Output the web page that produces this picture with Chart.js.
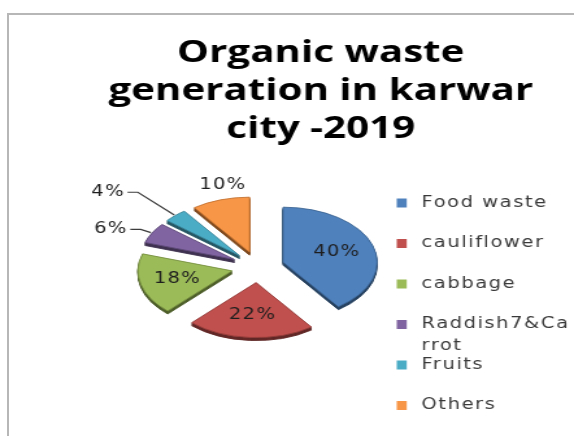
<!DOCTYPE html>
<html>
<head>
<meta charset="utf-8">
<script src="https://cdn.jsdelivr.net/npm/chart.js@4.4.1/dist/chart.umd.min.js"></script>
<style>
  html, body { margin: 0; padding: 0; background: #fff; }
  body { width: 574px; height: 436px; overflow: hidden; position: relative; }
  #frame {
    position: absolute; left: 7px; top: 13px; width: 620px; height: 480px;
    border-top: 2px solid #b7b7b7; border-left: 2px solid #b7b7b7;
  }
  #chart { position: absolute; left: 0; top: 0; }
</style>
</head>
<body>
<div id="frame"></div>
<!-- the source picture is stretched sideways, so the canvas is drawn narrow and widened by css -->
<canvas id="chart" width="442" height="436" style="width:574px;height:436px"></canvas>
<script>
const titleLines = ['Organic waste', 'generation in karwar', 'city -2019'];
const categories = ['Food waste', 'cauliflower', 'cabbage', 'Raddish7&Carrot', 'Fruits', 'Others'];
const shares = [40, 22, 18, 6, 4, 10];
const sliceColors = ['#4F81BD', '#C0504D', '#9BBB59', '#8064A2', '#4BACC6', '#F79646'];
const edgeColors = ['#3b6493', '#933c3a', '#76903f', '#5e4a79', '#3a8599', '#c4712f'];

const TILT = 0.76;     // vertical squash of the pie
const EXPLODE = 20.5;  // how far each slice is pulled out
const DEPTH = 3;       // side height of the 3d pie, px

function midAngle(arc) {
  return (arc.startAngle + arc.endAngle) / 2;
}

function pointAt(arc, dist) {
  const mid = midAngle(arc);
  return { x: arc.x + Math.cos(mid) * dist, y: arc.y + Math.sin(mid) * dist * TILT };
}

const explodedPie = {
  id: 'explodedPie',
  beforeDatasetsDraw(chart) {
    const { ctx } = chart;
    const arcs = chart.getDatasetMeta(0).data;
    const { x: cx, y: cy } = arcs[0];
    ctx.save();
    ctx.translate(cx, cy);
    ctx.scale(1, TILT);
    ctx.translate(-cx, -cy);

    const drawSlice = (arc, drop, filter) => {
      const mid = midAngle(arc);
      ctx.save();
      ctx.filter = filter;
      ctx.translate(Math.cos(mid) * EXPLODE, Math.sin(mid) * EXPLODE + drop / TILT);
      arc.draw(ctx);
      ctx.restore();
    };

    // sides first, then the tops
    for (let d = DEPTH; d > 0; d--) {
      arcs.forEach(arc => drawSlice(arc, d, 'brightness(0.62)'));
    }
    arcs.forEach(arc => drawSlice(arc, 0, 'none'));

    ctx.restore();
    return false;
  },
};

const sliceLabels = {
  id: 'sliceLabels',
  afterDraw(chart) {
    const { ctx } = chart;
    const arcs = chart.getDatasetMeta(0).data;
    const values = chart.data.datasets[0].data;
    const total = values.reduce((a, b) => a + b, 0);

    ctx.save();
    ctx.font = '15px "DejaVu Sans"';
    ctx.letterSpacing = '1px';
    ctx.fillStyle = '#1e1e1e';
    ctx.strokeStyle = '#3c3c3c';
    ctx.lineWidth = 1.2;
    ctx.textBaseline = 'middle';

    let leaders = 0;
    arcs.forEach((arc, i) => {
      const pct = values[i] / total * 100;
      const text = Math.round(pct) + '%';
      const R = arc.outerRadius;

      if (pct >= 15) {
        const p = pointAt(arc, EXPLODE + R * 0.6);
        ctx.textAlign = 'center';
        ctx.fillText(text, p.x, p.y);
      } else if (pct >= 8) {
        const p = pointAt(arc, EXPLODE + R + 20);
        ctx.textAlign = 'center';
        ctx.fillText(text, p.x + 8, p.y);
      } else {
        // thin slices get a leader line
        const a = pointAt(arc, EXPLODE + R + 1);
        const b = pointAt(arc, EXPLODE + R + 10 + 32 * leaders++);
        const side = Math.cos(midAngle(arc)) < 0 ? -1 : 1;
        const c = { x: b.x + side * 8, y: b.y };
        ctx.beginPath();
        ctx.moveTo(a.x, a.y);
        ctx.lineTo(b.x, b.y);
        ctx.lineTo(c.x, c.y);
        ctx.stroke();
        ctx.textAlign = side < 0 ? 'right' : 'left';
        ctx.fillText(text, c.x + side * 2, c.y);
      }
    });
    ctx.restore();
  },
};

const titleAndLegend = {
  id: 'titleAndLegend',
  afterDraw(chart) {
    const { ctx } = chart;

    // title
    ctx.save();
    ctx.font = 'bold 31px "Open Sans"';
    ctx.fillStyle = '#000';
    ctx.textAlign = 'center';
    ctx.textBaseline = 'alphabetic';
    titleLines.forEach((line, i) => ctx.fillText(line, 247, 62 + i * 38));
    ctx.restore();

    // legend
    const boxX = 305.5, textX = 324.6, top = 203, step = 40.5, lineH = 22;
    const maxW = chart.width - textX;
    const colors = chart.data.datasets[0].backgroundColor;
    ctx.save();
    ctx.font = '15px "DejaVu Sans"';
    ctx.letterSpacing = '1.2px';
    ctx.textBaseline = 'middle';
    ctx.textAlign = 'left';
    chart.data.labels.forEach((label, i) => {
      const y = top + i * step;
      ctx.fillStyle = colors[i];
      ctx.fillRect(boxX, y - 4.5, 7.7, 9);

      // break long names by character, like the source does
      const lines = [];
      let cur = '';
      for (const ch of label) {
        if (cur && ctx.measureText(cur + ch).width > maxW) {
          lines.push(cur);
          cur = ch;
        } else {
          cur += ch;
        }
      }
      lines.push(cur);
      ctx.fillStyle = '#3a3a3a';
      lines.forEach((ln, j) => ctx.fillText(ln, textX, y + j * lineH));
    });
    ctx.restore();
  },
};

new Chart(document.getElementById('chart'), {
  type: 'pie',
  data: {
    labels: categories,
    datasets: [{
      data: shares,
      backgroundColor: sliceColors,
      borderColor: edgeColors,
      borderWidth: 1,
    }],
  },
  options: {
    responsive: false,
    animation: false,
    devicePixelRatio: 1,
    radius: 72.4,
    layout: { padding: { left: 0, right: 45, top: 98, bottom: 0 } },
    plugins: {
      legend: { display: false },
      title: { display: false },
      tooltip: { enabled: false },
    },
  },
  plugins: [explodedPie, sliceLabels, titleAndLegend],
});
</script>
</body>
</html>
